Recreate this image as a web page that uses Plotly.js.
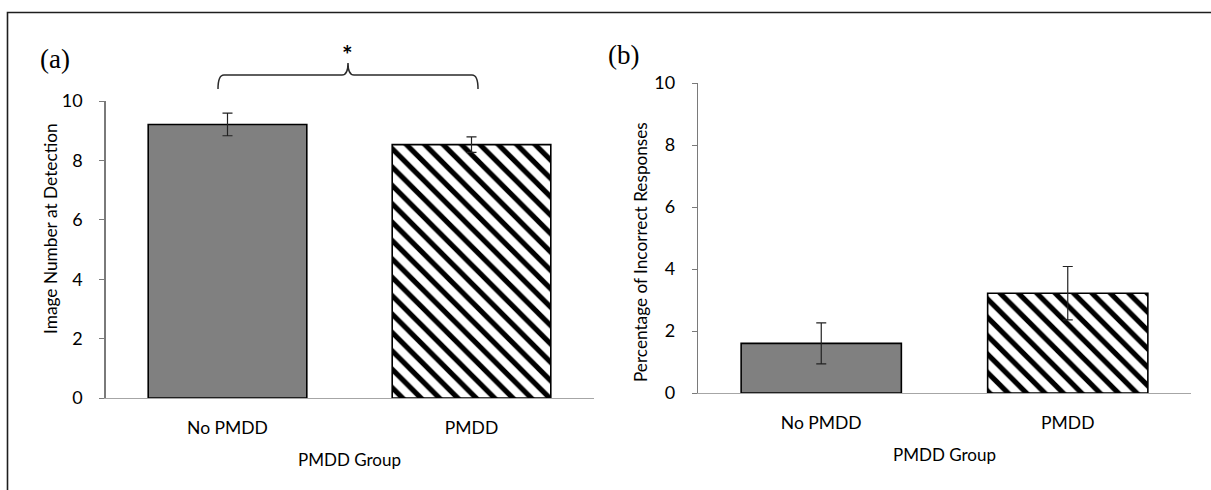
<!DOCTYPE html>
<html>
<head>
<meta charset="utf-8">
<script src="https://cdn.plot.ly/plotly-3.0.1.min.js"></script>
<style>html,body{margin:0;padding:0;background:#fff;}#chart{width:1211px;height:490px;}</style>
</head>
<body>
<div id="chart"></div>
<script>
// ---- data ----
const groups = ["No PMDD", "PMDD"];
const detectionMeans = [9.21, 8.53];
const detectionErrors = [0.38, 0.26];
const incorrectMeans = [1.60, 3.22];
const incorrectErrors = [0.66, 0.86];
const yTicksA = [0, 2, 4, 6, 8, 10];
const yTicksB = [0, 2, 4, 6, 8, 10];
const panelLabels = ["(a)", "(b)"];
const xTitle = "PMDD Group";
const yTitleA = "Image Number at Detection";
const yTitleB = "Percentage of Incorrect Responses";
const sigMark = "*";

// ---- helpers (pixel -> paper) ----
const W = 1211, H = 490;
const px = v => v / W;
const py = v => 1 - v / H;

const font = "Lato, 'Open Sans', sans-serif";
const barColors = ["#808080", "#ffffff"];
const patterns = [
  {shape: ""},
  {shape: "\\", fgcolor: "#000000", bgcolor: "#ffffff", size: 13, solidity: 0.4, fillmode: "replace"}
];

function makeBars(vals, errs, xa, ya) {
  return groups.map((g, i) => ({
    type: "bar",
    x: [g],
    y: [vals[i]],
    xaxis: xa, yaxis: ya,
    width: 0.65,
    marker: {color: barColors[i], line: {color: "#000000", width: 1.6}, pattern: patterns[i]},
    error_y: {type: "data", array: [errs[i]], visible: true, color: "#222222", thickness: 1.2, width: 5},
    showlegend: false,
    hoverinfo: "x+y"
  }));
}

const data = [
  ...makeBars(detectionMeans, detectionErrors, "x", "y"),
  ...makeBars(incorrectMeans, incorrectErrors, "x2", "y2")
];

const yaxisCommon = {
  range: [0, 10],
  showgrid: false,
  zeroline: false,
  showline: true,
  linecolor: "#7a7a7a",
  linewidth: 1.2,
  ticks: "outside",
  ticklen: 5,
  tickcolor: "#7a7a7a",
  tickfont: {family: font, size: 18, color: "#000"},
  ticklabelstandoff: 13,
  fixedrange: true
};
const xaxisCommon = {
  type: "category",
  range: [-0.5, 1.5],
  showgrid: false,
  zeroline: false,
  showline: true,
  linecolor: "#a6a6a6",
  linewidth: 1.2,
  ticks: "",
  tickfont: {family: font, size: 17.5, color: "#000"},
  ticklabelstandoff: 14,
  fixedrange: true
};

// brace path (pixel geometry)
function bracePath(x0, x1, yTop, yEnd, yPeak) {
  const xm = (x0 + x1) / 2, r = 6;
  const P = (x, y) => px(x).toFixed(5) + "," + py(y).toFixed(5);
  return "M" + P(x0, yEnd) +
    " Q" + P(x0, yTop) + " " + P(x0 + r, yTop) +
    " L" + P(xm - r, yTop) +
    " Q" + P(xm, yTop) + " " + P(xm, yPeak) +
    " Q" + P(xm, yTop) + " " + P(xm + r, yTop) +
    " L" + P(x1 - r, yTop) +
    " Q" + P(x1, yTop) + " " + P(x1, yEnd);
}

const layout = {
  width: W, height: H,
  margin: {l: 0, r: 0, t: 0, b: 0},
  paper_bgcolor: "#ffffff",
  plot_bgcolor: "rgba(0,0,0,0)",
  showlegend: false,
  xaxis: Object.assign({}, xaxisCommon, {domain: [px(105.5), px(593.5)], anchor: "y",
    title: {text: xTitle, font: {family: font, size: 17, color: "#000"}, standoff: 16}}),
  yaxis: Object.assign({}, yaxisCommon, {domain: [py(398), py(101)], anchor: "x", tickvals: yTicksA}),
  xaxis2: Object.assign({}, xaxisCommon, {domain: [px(698), px(1191)], anchor: "y2",
    title: {text: xTitle, font: {family: font, size: 17, color: "#000"}, standoff: 16}}),
  yaxis2: Object.assign({}, yaxisCommon, {domain: [py(393), py(83)], anchor: "x2", tickvals: yTicksB}),
  shapes: [
    {type: "rect", xref: "paper", yref: "paper", x0: px(7.5), x1: px(1300), y0: py(600), y1: py(12.5),
     line: {color: "#1e1e1e", width: 1.6}, fillcolor: "rgba(0,0,0,0)"},
    {type: "path", xref: "paper", yref: "paper", path: bracePath(218, 478, 75, 89, 63),
     line: {color: "#2a2a2a", width: 1.5}}
  ],
  annotations: [
    {text: panelLabels[0], xref: "paper", yref: "paper", x: px(38), y: py(59), xanchor: "left", yanchor: "middle",
     showarrow: false, font: {family: "'Liberation Serif', 'Times New Roman', serif", size: 27, color: "#000"}},
    {text: panelLabels[1], xref: "paper", yref: "paper", x: px(606), y: py(55), xanchor: "left", yanchor: "middle",
     showarrow: false, font: {family: "'Liberation Serif', 'Times New Roman', serif", size: 27, color: "#000"}},
    {text: yTitleA, xref: "paper", yref: "paper", x: px(50), y: py(229), xanchor: "center", yanchor: "middle",
     textangle: -90, showarrow: false, font: {family: font, size: 17.3, color: "#000"}},
    {text: yTitleB, xref: "paper", yref: "paper", x: px(641), y: py(252), xanchor: "center", yanchor: "middle",
     textangle: -90, showarrow: false, font: {family: font, size: 17.2, color: "#000"}},
    {text: "<b>" + sigMark + "</b>", xref: "paper", yref: "paper", x: px(348), y: py(54), xanchor: "center", yanchor: "middle",
     showarrow: false, font: {family: font, size: 25, color: "#000"}}
  ]
};

Plotly.newPlot("chart", data, layout, {displayModeBar: false, staticPlot: true});
</script>
</body>
</html>
